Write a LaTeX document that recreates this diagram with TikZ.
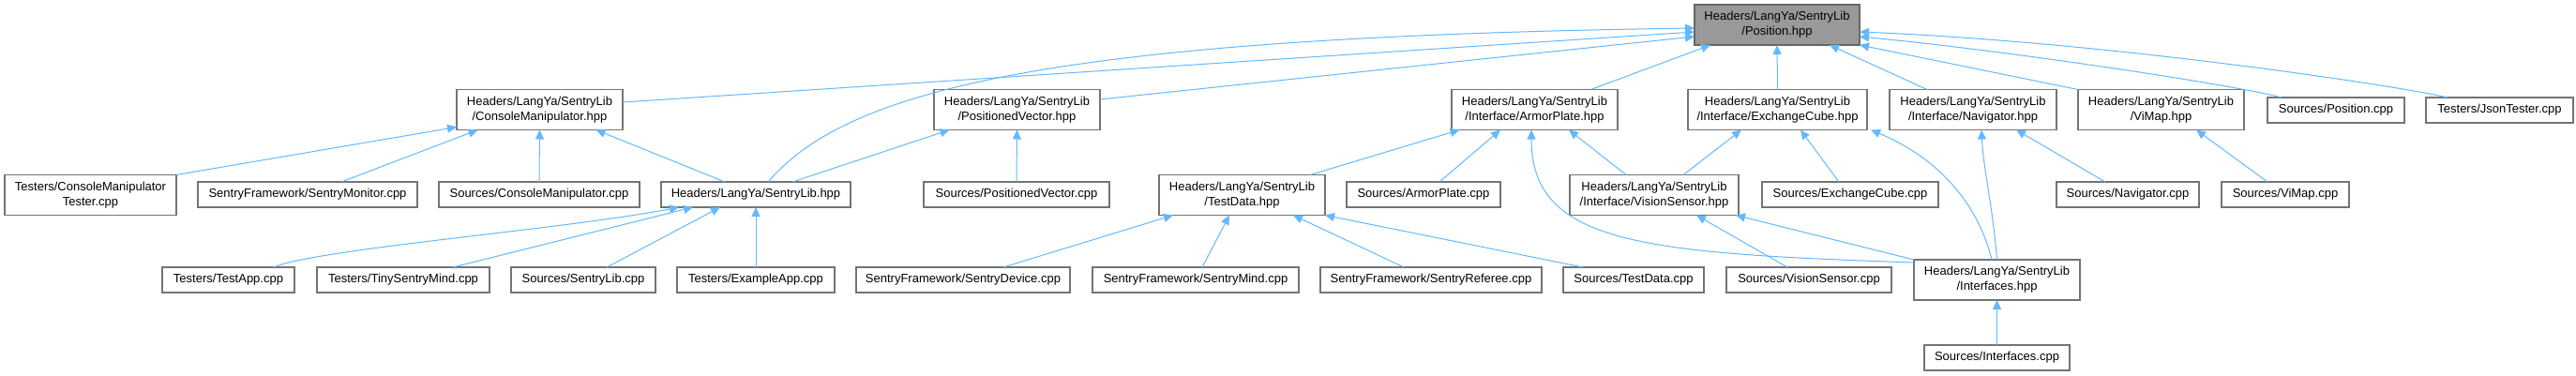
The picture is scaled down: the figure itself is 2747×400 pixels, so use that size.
\documentclass[tikz,border=0pt]{standalone}
\usepackage{fontspec}
\setmainfont{Liberation Sans}
\usetikzlibrary{arrows.meta}

\definecolor{edgeblue}{HTML}{63B8FF}
\definecolor{boxline}{HTML}{747474}
\definecolor{rootfill}{HTML}{999999}
\definecolor{rootline}{HTML}{666666}

\tikzset {
  file box/.style = {
    draw=boxline,
    line width=1.2pt,
    fill=white,
    inner sep=0pt,
    outer sep=0pt,
    minimum height=27pt,
    align=center,
    font=\fontsize{13}{16}\selectfont
  },
  two line/.style = {minimum height=43pt},
  root box/.style = {file box, two line, fill=rootfill, draw=rootline},
  include edge/.style = {
    draw=edgeblue,
    line width=1pt,
    -{Triangle[length=10pt,width=9pt]}
  }
}

\begin{document}
\begin{tikzpicture}[x=1pt,y=-1pt]

\useasboundingbox (0,0) rectangle (2747,400);

% --- Root header ---
\node[root box, minimum width=176] (pos) at (1895,26.5) {Headers/LangYa/SentryLib\\/Position.hpp};

% --- First level ---
\node[file box, two line, minimum width=177] (consoleHpp) at (575.5,117) {Headers/LangYa/SentryLib\\/ConsoleManipulator.hpp};
\node[file box, two line, minimum width=177] (vectorHpp)  at (1084.5,117) {Headers/LangYa/SentryLib\\/PositionedVector.hpp};
\node[file box, two line, minimum width=177] (armorHpp)   at (1636.5,117) {Headers/LangYa/SentryLib\\/Interface/ArmorPlate.hpp};
\node[file box, two line, minimum width=191] (cubeHpp)    at (1895.5,117) {Headers/LangYa/SentryLib\\/Interface/ExchangeCube.hpp};
\node[file box, two line, minimum width=178] (navHpp)     at (2104,117) {Headers/LangYa/SentryLib\\/Interface/Navigator.hpp};
\node[file box, two line, minimum width=177] (mapHpp)     at (2304.5,117) {Headers/LangYa/SentryLib\\/ViMap.hpp};
\node[file box, minimum width=146] (posCpp)  at (2491,117.5) {Sources/Position.cpp};
\node[file box, minimum width=157] (jsonCpp) at (2665.5,117.5) {Testers/JsonTester.cpp};

% --- Second level ---
\node[file box, two line, minimum width=183] (testerCpp) at (96.5,208) {Testers/ConsoleManipulator\\Tester.cpp};
\node[file box, minimum width=234] (monitorCpp) at (328,207.5) {SentryFramework/SentryMonitor.cpp};
\node[file box, minimum width=214] (consoleCpp) at (575,207.5) {Sources/ConsoleManipulator.cpp};
\node[file box, minimum width=202] (libHpp)     at (806,207.5) {Headers/LangYa/SentryLib.hpp};
\node[file box, minimum width=198] (vectorCpp)  at (1084,207.5) {Sources/PositionedVector.cpp};
\node[file box, two line, minimum width=177] (dataHpp) at (1324.5,208) {Headers/LangYa/SentryLib\\/TestData.hpp};
\node[file box, minimum width=164] (armorCpp)   at (1518,207.5) {Sources/ArmorPlate.cpp};
\node[file box, two line, minimum width=180] (sensorHpp) at (1764,208) {Headers/LangYa/SentryLib\\/Interface/VisionSensor.hpp};
\node[file box, minimum width=188] (cubeCpp)    at (1973,207.5) {Sources/ExchangeCube.cpp};
\node[file box, minimum width=152] (navCpp)     at (2269,207.5) {Sources/Navigator.cpp};
\node[file box, minimum width=136] (mapCpp)     at (2437,207.5) {Sources/ViMap.cpp};

% --- Third level ---
\node[file box, minimum width=141] (testAppCpp) at (243.5,298.5) {Testers/TestApp.cpp};
\node[file box, minimum width=184] (tinyCpp)    at (430,298.5) {Testers/TinySentryMind.cpp};
\node[file box, minimum width=154] (libCpp)     at (622,298.5) {Sources/SentryLib.cpp};
\node[file box, minimum width=168] (exampleCpp) at (806,298.5) {Testers/ExampleApp.cpp};
\node[file box, minimum width=228] (deviceCpp)  at (1027,298.5) {SentryFramework/SentryDevice.cpp};
\node[file box, minimum width=220] (mindCpp)    at (1275,298.5) {SentryFramework/SentryMind.cpp};
\node[file box, minimum width=236] (refereeCpp) at (1526,298.5) {SentryFramework/SentryReferee.cpp};
\node[file box, minimum width=150] (dataCpp)    at (1742,298.5) {Sources/TestData.cpp};
\node[file box, minimum width=176] (sensorCpp)  at (1929,298.5) {Sources/VisionSensor.cpp};
\node[file box, two line, minimum width=177] (ifaceHpp) at (2129.5,298.5) {Headers/LangYa/SentryLib\\/Interfaces.hpp};

% --- Fourth level ---
\node[file box, minimum width=155] (ifaceCpp) at (2129.5,381.5) {Sources/Interfaces.cpp};

% --- Edges into Position.hpp ---
\draw[include edge] ([yshift=8pt]consoleHpp.east) -- ([yshift=-7.5pt]pos.west);
\draw[include edge] ([xshift=13pt]libHpp.north) .. controls (900,100) and (1100,40) .. ([yshift=-3.5pt]pos.west);
\draw[include edge] ([yshift=11pt]vectorHpp.east) -- ([yshift=-12.5pt]pos.west);
\draw[include edge] ([xshift=60pt]armorHpp.north) -- ([xshift=-71pt]pos.south);
\draw[include edge] (cubeHpp.north) -- (pos.south);
\draw[include edge] ([xshift=-49pt]navHpp.north) -- ([xshift=56pt]pos.south);
\draw[include edge] (mapHpp.north west) -- (pos.south east);
\draw[include edge] ([xshift=-58pt]posCpp.north) .. controls (2390,92) and (2150,55) .. ([yshift=-12.5pt]pos.east);
\draw[include edge] ([xshift=-55.5pt]jsonCpp.north) .. controls (2560,92) and (2250,45) .. ([yshift=-7.5pt]pos.east);

% --- Edges into ConsoleManipulator.hpp ---
\draw[include edge] (testerCpp.north east) -- ([yshift=3pt]consoleHpp.south west);
\draw[include edge] ([xshift=36pt]monitorCpp.north) -- ([xshift=-66pt]consoleHpp.south);
\draw[include edge] (consoleCpp.north) -- (consoleHpp.south);
\draw[include edge] ([xshift=-33pt]libHpp.north) -- ([xshift=60pt]consoleHpp.south);

% --- Edges into PositionedVector.hpp ---
\draw[include edge] ([xshift=39pt]libHpp.north) -- ([xshift=-72pt]vectorHpp.south);
\draw[include edge] (vectorCpp.north) -- (vectorHpp.south);

% --- Edges into SentryLib.hpp ---
\draw[include edge] ([xshift=48pt]testAppCpp.north) .. controls (340,265) and (600,245) .. ([xshift=-82pt]libHpp.south);
\draw[include edge] ([xshift=53pt]tinyCpp.north) -- ([xshift=-67pt]libHpp.south);
\draw[include edge] ([xshift=25pt]libCpp.north) -- ([xshift=-38pt]libHpp.south);
\draw[include edge] (exampleCpp.north) -- (libHpp.south);

% --- Edges into ArmorPlate.hpp ---
\draw[include edge] ([xshift=72.5pt]dataHpp.north) -- ([xshift=-80pt]armorHpp.south);
\draw[include edge] ([xshift=17pt]armorCpp.north) -- ([xshift=-36.5pt]armorHpp.south);
\draw[include edge] ([xshift=-30pt]sensorHpp.north) -- ([xshift=36.5pt]armorHpp.south);
\draw[include edge] ([yshift=-3pt]ifaceHpp.north west) .. controls (1750,270) and (1633,260) .. ([xshift=-3.5pt]armorHpp.south);

% --- Edges into ExchangeCube.hpp ---
\draw[include edge] ([xshift=31pt]sensorHpp.north) -- ([xshift=-38.5pt]cubeHpp.south);
\draw[include edge] ([xshift=-12pt]cubeCpp.north) -- ([xshift=24.5pt]cubeHpp.south);
\draw[include edge] ([xshift=-5.5pt]ifaceHpp.north) .. controls (2110,220) and (2070,170) .. ([xshift=4pt]cubeHpp.south east);

% --- Edges into Navigator.hpp and ViMap.hpp ---
\draw[include edge] (ifaceHpp.north) .. controls (2125,220) and (2115,180) .. ([xshift=9pt]navHpp.south);
\draw[include edge] ([xshift=-24pt]navCpp.north) -- ([xshift=46pt]navHpp.south);
\draw[include edge] ([xshift=-19pt]mapCpp.north) -- ([xshift=37.5pt]mapHpp.south);

% --- Edges into TestData.hpp ---
\draw[include edge] ([xshift=43pt]deviceCpp.north) -- ([xshift=-73.5pt]dataHpp.south);
\draw[include edge] ([xshift=7pt]mindCpp.north) -- ([xshift=-13.5pt]dataHpp.south);
\draw[include edge] ([xshift=-29pt]refereeCpp.north) -- ([xshift=54.5pt]dataHpp.south);
\draw[include edge] ([xshift=-54pt]dataCpp.north) -- (dataHpp.south east);

% --- Edges into VisionSensor.hpp and Interfaces.hpp ---
\draw[include edge] ([xshift=-23pt]sensorCpp.north) -- ([xshift=45pt]sensorHpp.south);
\draw[include edge] (ifaceHpp.north west) -- ([xshift=-3pt]sensorHpp.south east);
\draw[include edge] (ifaceCpp.north) -- (ifaceHpp.south);

\end{tikzpicture}
\end{document}
